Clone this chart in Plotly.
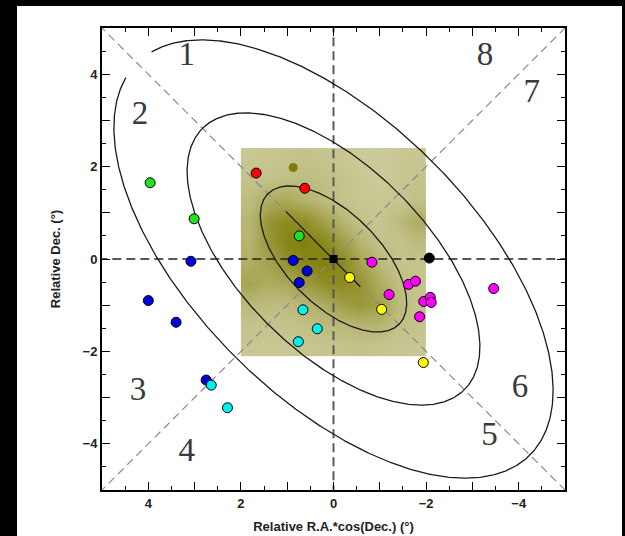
import numpy as np
import plotly.graph_objects as go

# ---- stellar density of the survey field (fraction of sky covered by star symbols) ----
field_x = [1.8, 1.4, 1.0, 0.6, 0.2, -0.2, -0.6, -1.0, -1.4, -1.8]
field_y = [2.175, 1.725, 1.275, 0.825, 0.375, -0.075, -0.525, -0.975, -1.425, -1.875]
field_density = [
    [0.42, 0.43, 0.44, 0.46, 0.44, 0.42, 0.40, 0.40, 0.42, 0.43],
    [0.45, 0.46, 0.48, 0.50, 0.48, 0.45, 0.42, 0.40, 0.42, 0.45],
    [0.50, 0.62, 0.64, 0.57, 0.50, 0.45, 0.42, 0.42, 0.43, 0.47],
    [0.55, 0.80, 0.88, 0.84, 0.70, 0.55, 0.46, 0.43, 0.50, 0.62],
    [0.56, 0.78, 0.92, 0.95, 0.90, 0.72, 0.55, 0.46, 0.45, 0.50],
    [0.60, 0.70, 0.82, 0.90, 0.95, 0.88, 0.68, 0.52, 0.45, 0.45],
    [0.68, 0.62, 0.65, 0.75, 0.85, 0.88, 0.80, 0.62, 0.48, 0.45],
    [0.52, 0.50, 0.50, 0.55, 0.62, 0.72, 0.78, 0.70, 0.52, 0.45],
    [0.45, 0.45, 0.45, 0.48, 0.50, 0.52, 0.55, 0.55, 0.48, 0.45],
    [0.42, 0.42, 0.42, 0.43, 0.44, 0.45, 0.46, 0.44, 0.43, 0.42],
]
clump_x = [0.87]
clump_y = [1.98]

# ---- isophotal ellipses (semi-axes in degrees, position angle of major axis) ----
ell_major = [2.0, 4.0, 6.0]
ell_minor = [1.0, 2.0, 3.0]
ell_pa_deg = 45.0
ell_gap_deg = [0.0, 0.0, 7.5]   # half-width of the break at the upper-left tip

major_axis_x = [1.03, -0.58]
major_axis_y = [1.03, -0.60]

# ---- satellite candidates, grouped by colour ----
groups = [
    ("red",     [1.67, 0.62], [1.86, 1.53]),
    ("#22e022", [3.96, 3.01, 0.74], [1.65, 0.87, 0.50]),
    ("#0000dd", [3.08, 4.00, 3.40, 0.87, 0.57, 0.74, 2.75],
                [-0.05, -0.90, -1.37, -0.03, -0.26, -0.51, -2.62]),
    ("#00f0f0", [2.64, 2.29, 0.66, 0.35, 0.76], [-2.73, -3.22, -1.10, -1.51, -1.79]),
    ("#ff00ff", [-0.83, -1.62, -1.77, -1.20, -1.95, -2.09, -2.11, -1.86, -3.46],
                [-0.07, -0.55, -0.48, -0.77, -0.92, -0.83, -0.94, -1.25, -0.64]),
    ("#ffff00", [-0.35, -1.04, -1.94], [-0.40, -1.09, -2.24]),
    ("black",   [-2.07], [0.02]),
]
center_x = [0.0]
center_y = [0.0]

# ---- sector numbers ----
sector_text = ["1", "2", "3", "4", "5", "6", "7", "8"]
sector_x = [3.17, 4.18, 4.22, 3.17, -3.37, -4.03, -4.28, -3.27]
sector_y = [4.37, 3.11, -2.87, -4.20, -3.84, -2.80, 3.58, 4.37]

x_ticks = [4, 3, 2, 1, 0, -1, -2, -3, -4]
y_ticks = [-4, -3, -2, -1, 0, 1, 2, 3, 4]


def tick_text(vals):
    return [(str(v).replace("-", "\u2212") if v % 2 == 0 else "") for v in vals]


fig = go.Figure()

# survey field
fig.add_trace(go.Heatmap(
    x=field_x, y=field_y, z=field_density, zmin=0, zmax=1, zsmooth="best",
    colorscale=[[0, "rgb(255,255,255)"], [1, "rgb(124,122,0)"]],
    showscale=False, hoverinfo="skip"))
fig.add_trace(go.Scatter(x=clump_x, y=clump_y, mode="markers",
                         marker=dict(size=9, color="rgb(128,122,10)"),
                         hoverinfo="skip"))

# sector boundaries (diagonals) and axes through the centre
span = [-6, 6]
fig.add_trace(go.Scatter(x=span, y=span, mode="lines",
                         line=dict(color="#8a8a8a", width=1.2, dash="8px,5px")))
fig.add_trace(go.Scatter(x=span, y=[-s for s in span], mode="lines",
                         line=dict(color="#8a8a8a", width=1.2, dash="8px,5px")))
fig.add_trace(go.Scatter(x=span, y=[0, 0], mode="lines",
                         line=dict(color="#222", width=1.7, dash="9px,5px")))
fig.add_trace(go.Scatter(x=[0, 0], y=span, mode="lines",
                         line=dict(color="#555", width=1.9, dash="9px,5px")))

# ellipses
pa = np.radians(ell_pa_deg)
for a, b, gap in zip(ell_major, ell_minor, ell_gap_deg):
    t = np.radians(np.linspace(gap, 360 - gap, 721))
    ex = a * np.cos(t) * np.cos(pa) - b * np.sin(t) * np.sin(pa)
    ey = a * np.cos(t) * np.sin(pa) + b * np.sin(t) * np.cos(pa)
    fig.add_trace(go.Scatter(x=ex, y=ey, mode="lines",
                             line=dict(color="#1a1a1a", width=1.3)))
fig.add_trace(go.Scatter(x=major_axis_x, y=major_axis_y, mode="lines",
                         line=dict(color="#1a1a1a", width=1.3)))

# satellites
for color, gx, gy in groups:
    fig.add_trace(go.Scatter(x=gx, y=gy, mode="markers",
                             marker=dict(size=10, color=color,
                                         line=dict(color="black", width=1))))
fig.add_trace(go.Scatter(x=center_x, y=center_y, mode="markers",
                         marker=dict(size=8, symbol="square", color="black")))

# sector numbers
fig.add_trace(go.Scatter(x=sector_x, y=sector_y, mode="text", text=sector_text,
                         textfont=dict(family="Liberation Serif", size=33,
                                       color="#3a3a3a")))

axis_common = dict(
    showgrid=False, zeroline=False, showline=True, linecolor="black",
    linewidth=2, mirror="ticks", ticks="inside", ticklen=8, tickwidth=1.4,
    tickcolor="black", automargin=False,
    tickfont=dict(family="Liberation Sans", size=13, color="#222", weight="bold"),
    minor=dict(dtick=0.5, tick0=0, ticks="inside", ticklen=4, tickwidth=1,
               tickcolor="black"),
)

title_font = dict(family="Liberation Sans", size=13, color="#222", weight="bold")

fig.update_layout(
    width=625, height=536, autosize=False,
    margin=dict(l=102, r=60, t=28, b=46),
    paper_bgcolor="black", plot_bgcolor="white",
    showlegend=False,
    xaxis=dict(range=[5, -5], tickmode="array", tickvals=x_ticks,
               ticktext=tick_text(x_ticks),
               title=dict(text="Relative R.A.*cos(Dec.) (°)", standoff=12,
                          font=title_font),
               **axis_common),
    yaxis=dict(range=[-5, 5], tickmode="array", tickvals=y_ticks,
               ticktext=tick_text(y_ticks),
               title=dict(text="Relative Dec. (°)", standoff=19,
                          font=title_font),
               **axis_common),
    shapes=[dict(type="rect", xref="paper", yref="paper", layer="below",
                 x0=(17 - 102) / 463, x1=(622 - 102) / 463,
                 y0=(490 - 536) / 462, y1=(490 - 6) / 462,
                 fillcolor="white", line=dict(width=0))],
)

fig.write_html("out.html")
